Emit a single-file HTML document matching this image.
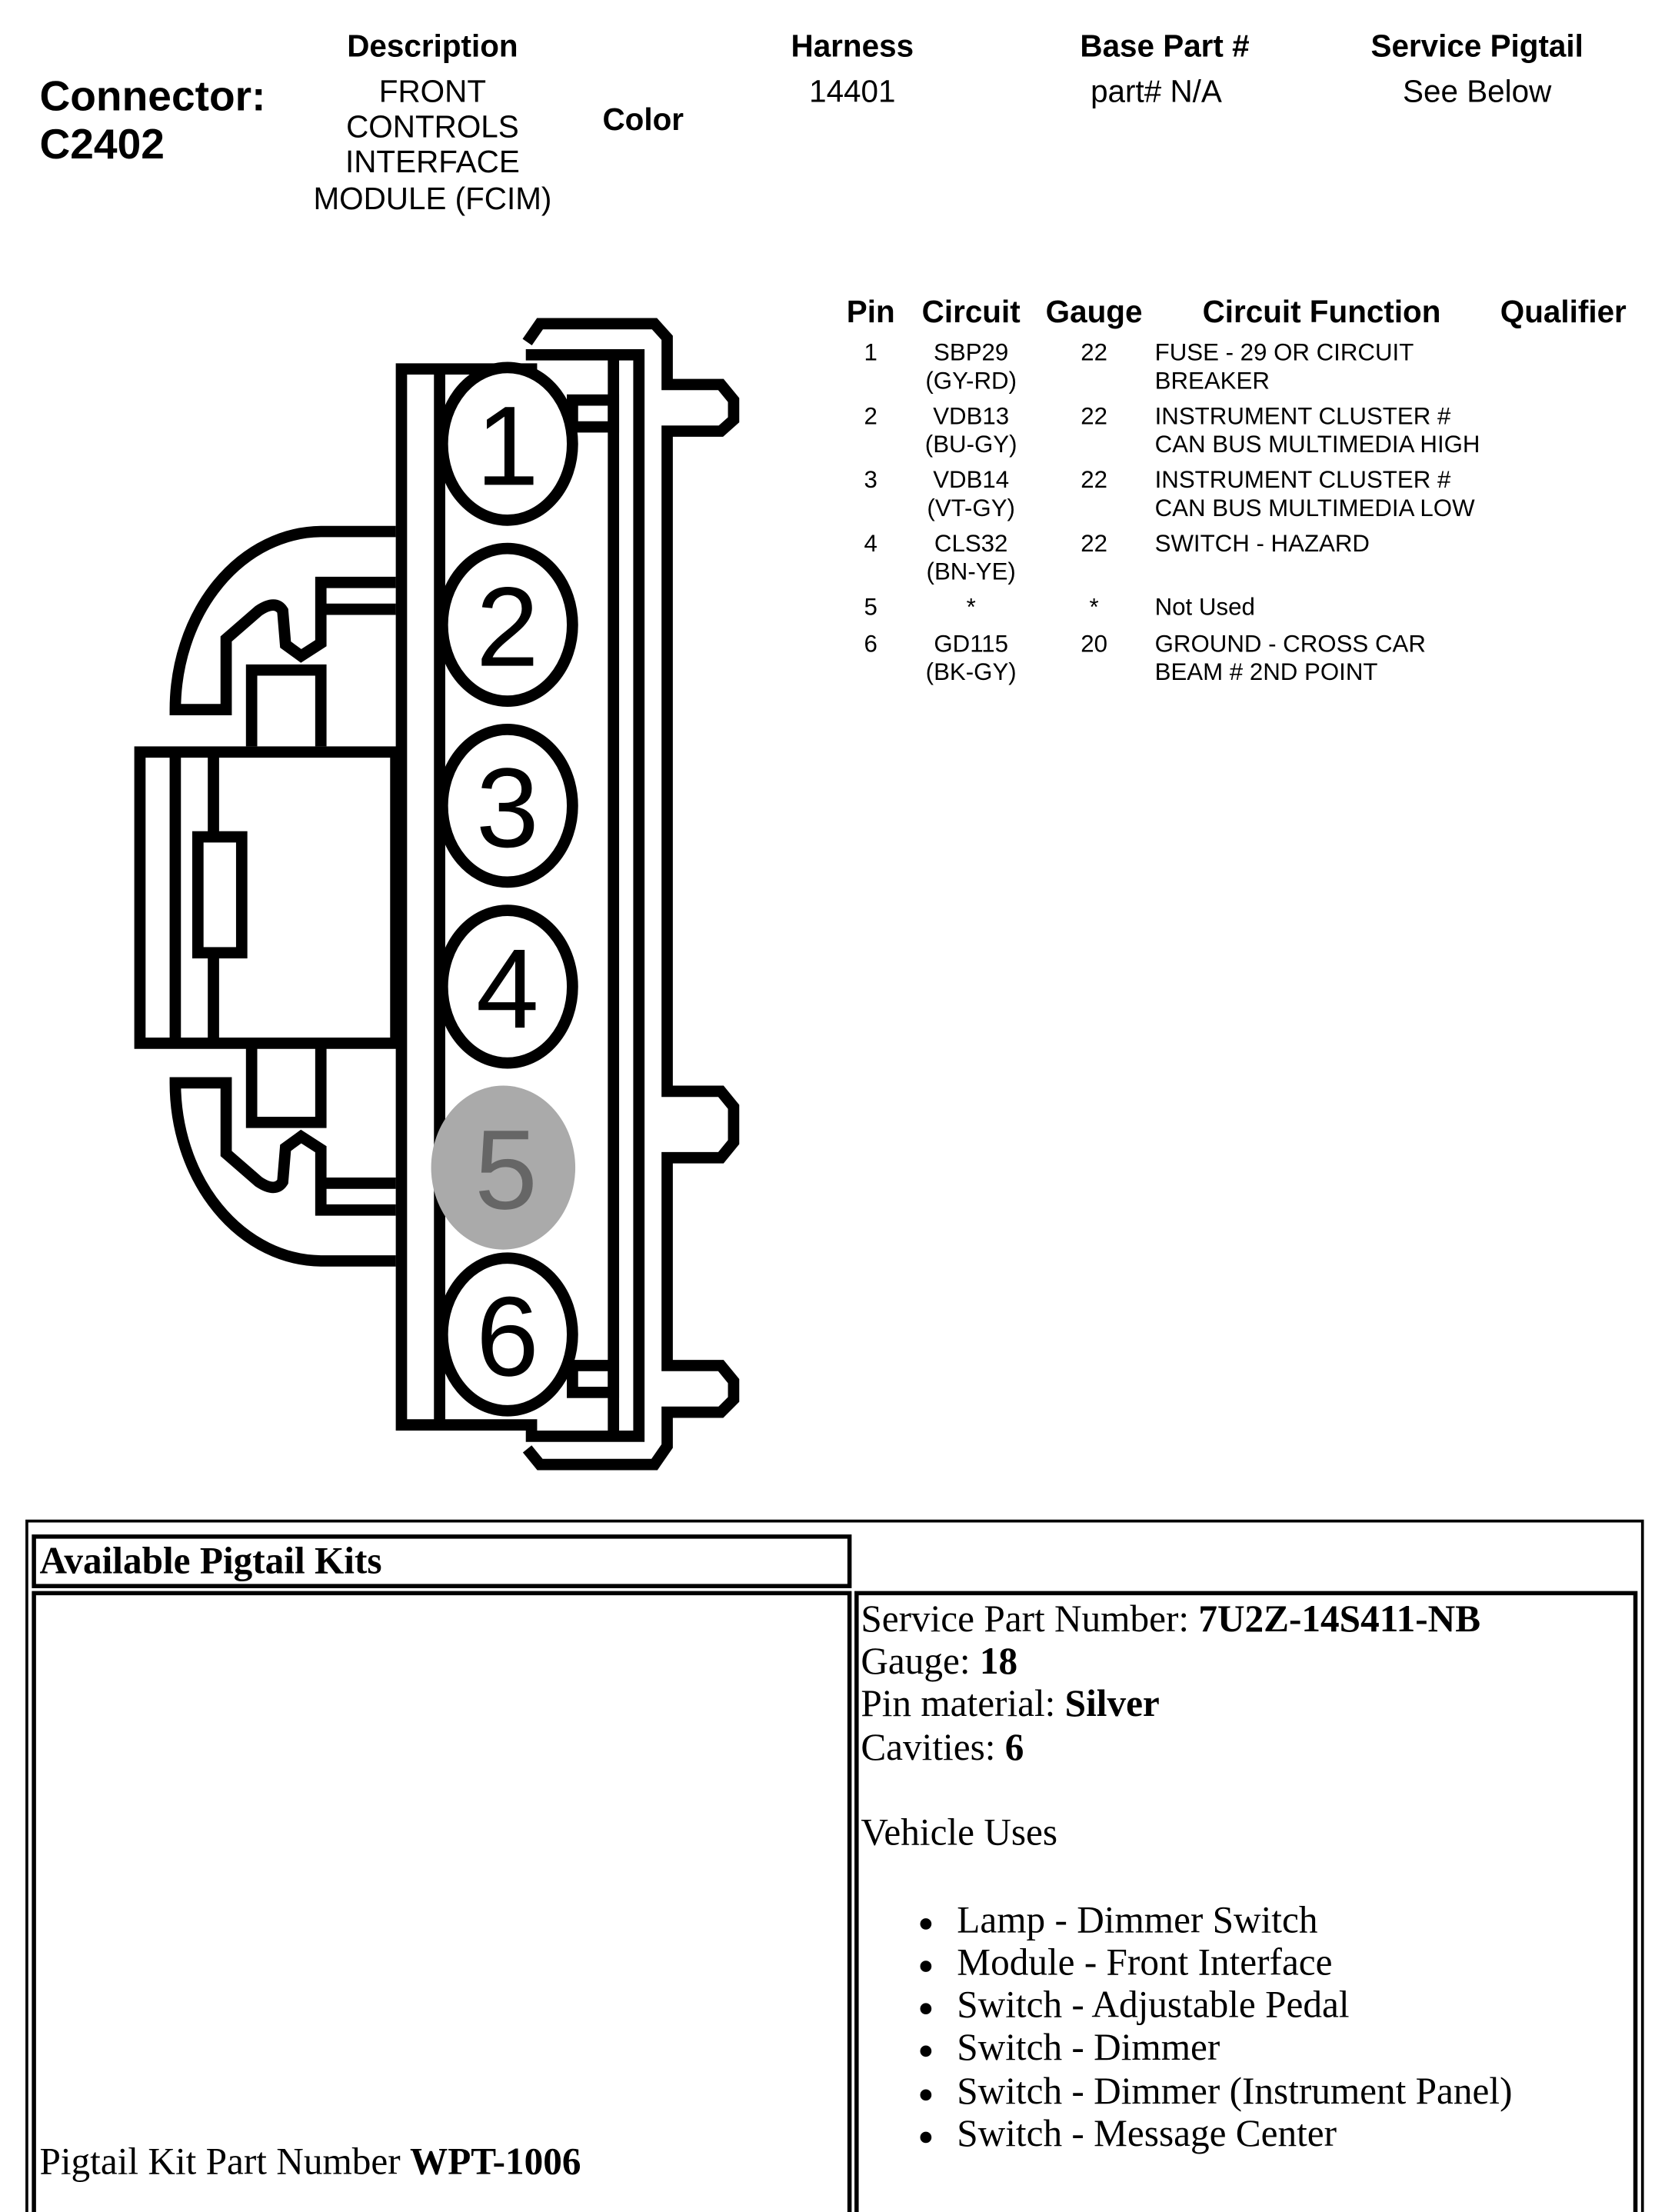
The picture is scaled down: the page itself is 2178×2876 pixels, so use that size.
<!DOCTYPE html>
<html><head><meta charset="utf-8"><style>
html,body{margin:0;padding:0;background:#fff;}
svg{display:block;}
.s{font-family:"Liberation Sans",sans-serif;}
.t{font-family:"Liberation Serif",serif;}
</style></head><body>
<svg width="2178" height="2876" viewBox="0 0 1185 1564.8" preserveAspectRatio="none" xmlns="http://www.w3.org/2000/svg">
<rect x="0" y="0" width="1185" height="1565" fill="#fff"/>
<g class="s" fill="#000">
<text x="28" y="78" font-size="30" font-weight="bold">Connector:</text>
<text x="28" y="112" font-size="30" font-weight="bold">C2402</text>
<g text-anchor="middle" font-size="22">
<text x="306" y="40" font-weight="bold">Description</text>
<text x="306" y="72">FRONT</text>
<text x="306" y="97">CONTROLS</text>
<text x="306" y="122">INTERFACE</text>
<text x="306" y="148">MODULE (FCIM)</text>
<text x="455" y="92" font-weight="bold">Color</text>
<text x="603" y="40" font-weight="bold">Harness</text>
<text x="603" y="72">14401</text>
<text x="824" y="40" font-weight="bold">Base Part #</text>
<text x="818" y="72">part# N/A</text>
<text x="1045" y="40" font-weight="bold">Service Pigtail</text>
<text x="1045" y="72">See Below</text>
<text x="616" y="228" font-weight="bold">Pin</text>
<text x="687" y="228" font-weight="bold">Circuit</text>
<text x="774" y="228" font-weight="bold">Gauge</text>
<text x="935" y="228" font-weight="bold">Circuit Function</text>
<text x="1106" y="228" font-weight="bold">Qualifier</text>
</g>
<g font-size="17">
<g text-anchor="middle">
<text x="616" y="255">1</text><text x="687" y="255">SBP29</text><text x="687" y="275">(GY-RD)</text><text x="774" y="255">22</text>
<text x="616" y="300">2</text><text x="687" y="300">VDB13</text><text x="687" y="320">(BU-GY)</text><text x="774" y="300">22</text>
<text x="616" y="345">3</text><text x="687" y="345">VDB14</text><text x="687" y="365">(VT-GY)</text><text x="774" y="345">22</text>
<text x="616" y="390">4</text><text x="687" y="390">CLS32</text><text x="687" y="410">(BN-YE)</text><text x="774" y="390">22</text>
<text x="616" y="435">5</text><text x="687" y="435">*</text><text x="774" y="435">*</text>
<text x="616" y="461">6</text><text x="687" y="461">GD115</text><text x="687" y="481">(BK-GY)</text><text x="774" y="461">20</text>
</g>
<text x="817" y="255">FUSE - 29 OR CIRCUIT</text><text x="817" y="275">BREAKER</text>
<text x="817" y="300">INSTRUMENT CLUSTER #</text><text x="817" y="320">CAN BUS MULTIMEDIA HIGH</text>
<text x="817" y="345">INSTRUMENT CLUSTER #</text><text x="817" y="365">CAN BUS MULTIMEDIA LOW</text>
<text x="817" y="390">SWITCH - HAZARD</text>
<text x="817" y="435">Not Used</text>
<text x="817" y="461">GROUND - CROSS CAR</text><text x="817" y="481">BEAM # 2ND POINT</text>
</g>
</g>
<g fill="none" stroke="#000" stroke-width="8">
<path d="M380,261 H284 V1008 H380"/>
<line x1="311" y1="261" x2="311" y2="1008"/>
<path d="M372,251 H452 V1016 H372"/>
<line x1="434" y1="251" x2="434" y2="1016"/>
<path d="M373,242 L382,229 H463 L472,239 V272 H510 L519,283 V297 L510,305 H472 V772 H510 L519,783 V808 L510,819 H472 V966 H510 L519,977 V990 L510,999 H472 V1023 L463,1036 H382 L373,1025"/>
<rect x="405" y="283" width="29" height="19"/>
<rect x="405" y="966" width="29" height="19"/>
<rect x="99" y="532" width="181" height="206"/>
<line x1="124" y1="532" x2="124" y2="738"/>
<path d="M151,532 V592 M151,674 V738"/>
<rect x="140" y="592" width="31" height="82"/>
<path d="M178,528 V474 H227 V528"/>
<path d="M178,740 V794 H227 V740"/>
<path d="M280,376 H227 A104,126 0 0 0 124,502 H160 V452 L183,432 Q195,424 200,432 L202,456 L213,464 L227,455 V412 H280 M227,431 H280"/>
<path d="M280,892 H227 A104,126 0 0 1 124,766 H160 V816 L183,836 Q195,844 200,836 L202,812 L213,804 L227,813 V856 H280 M227,837 H280"/>
<ellipse cx="359" cy="314" rx="46" ry="54" fill="#fff"/>
<ellipse cx="359" cy="442" rx="46" ry="54" fill="#fff"/>
<ellipse cx="359" cy="570" rx="46" ry="54" fill="#fff"/>
<ellipse cx="359" cy="698" rx="46" ry="54" fill="#fff"/>
<ellipse cx="359" cy="944" rx="46" ry="54" fill="#fff"/>
</g>
<ellipse cx="356" cy="826" rx="51" ry="58" fill="#aaa"/>
<g class="s" font-size="80" text-anchor="middle" fill="#000">
<text x="359" y="343">1</text>
<text x="359" y="471">2</text>
<text x="359" y="599">3</text>
<text x="359" y="727">4</text>
<text x="358" y="855" fill="#666">5</text>
<text x="359" y="973">6</text>
</g>
<g fill="none" stroke="#000">
<path d="M19,1565 V1076 H1162 V1565" stroke-width="2"/>
<rect x="24" y="1087" width="577" height="35" stroke-width="3"/>
<path d="M24,1565 V1127 H601 V1565" stroke-width="3"/>
<path d="M606,1565 V1127 H1157 V1565" stroke-width="3"/>
</g>
<g class="t" fill="#000" font-size="26.8">
<text x="28" y="1113" font-weight="bold">Available Pigtail Kits</text>
<text x="609" y="1154">Service Part Number: <tspan font-weight="bold">7U2Z-14S411-NB</tspan></text>
<text x="609" y="1184">Gauge: <tspan font-weight="bold">18</tspan></text>
<text x="609" y="1214">Pin material: <tspan font-weight="bold">Silver</tspan></text>
<text x="609" y="1245">Cavities: <tspan font-weight="bold">6</tspan></text>
<text x="609" y="1305">Vehicle Uses</text>
<g>
<circle cx="655" cy="1361" r="4"/><text x="677" y="1367">Lamp - Dimmer Switch</text>
<circle cx="655" cy="1391" r="4"/><text x="677" y="1397">Module - Front Interface</text>
<circle cx="655" cy="1421" r="4"/><text x="677" y="1427">Switch - Adjustable Pedal</text>
<circle cx="655" cy="1451" r="4"/><text x="677" y="1457">Switch - Dimmer</text>
<circle cx="655" cy="1482" r="4"/><text x="677" y="1488">Switch - Dimmer (Instrument Panel)</text>
<circle cx="655" cy="1512" r="4"/><text x="677" y="1518">Switch - Message Center</text>
</g>
<text x="28" y="1538">Pigtail Kit Part Number <tspan font-weight="bold">WPT-1006</tspan></text>
</g>
</svg>
</body></html>
